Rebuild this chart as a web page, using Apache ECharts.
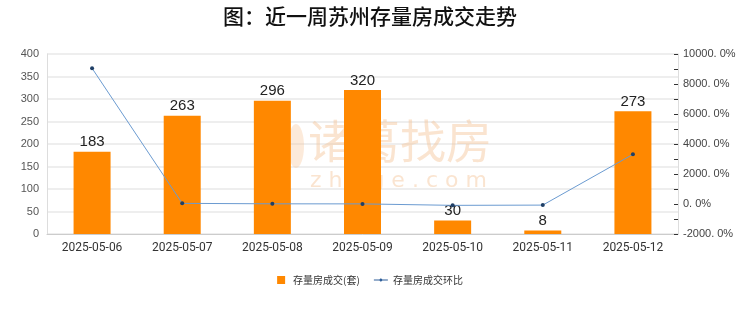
<!DOCTYPE html>
<html><head><meta charset="utf-8">
<script src="https://cdn.jsdelivr.net/npm/echarts@6/dist/echarts.min.js"></script>
<style>html,body{margin:0;padding:0;background:#fff}#c{width:740px;height:312px}</style>
</head><body><div id="c"></div>
<script>
const categories = ['2025-05-06','2025-05-07','2025-05-08','2025-05-09','2025-05-10','2025-05-11','2025-05-12'];
const volume = [183, 263, 296, 320, 30, 8, 273];
const ratio = [9050, 43.7, 12.5, 8.1, -90.6, -73.3, 3312.5];
const titleText = '图：近一周苏州存量房成交走势';
const seriesNames = ['存量房成交(套)', '存量房成交环比'];

const chart = echarts.init(document.getElementById('c'));
chart.setOption({
  animation: false,
  backgroundColor: '#fff',
  title: {
    text: titleText, left: 'center', top: 1,
    textStyle: {fontSize: 21, fontWeight: 500, color: '#111', fontFamily: 'Noto Sans CJK SC'}
  },
  graphic: [
    {type: 'text', left: 308, top: 118, z: 1, silent: true,
     style: {text: '诸葛找房', fontSize: 46, fontFamily: 'Noto Sans CJK SC', fill: 'rgba(245,195,150,0.45)'}},
    {type: 'text', left: 310, top: 170, z: 1, silent: true,
     style: {text: 'z h u g e . c o m', fontSize: 22, fontFamily: 'DejaVu Sans', fill: 'rgba(245,195,150,0.45)'}},
    {type: 'ellipse', shape: {cx: 296, cy: 146, rx: 8, ry: 22}, z: 1, silent: true,
     style: {fill: 'rgba(245,195,150,0.35)'}}
  ],
  legend: {
    bottom: 22, left: 'center', itemGap: 14, itemWidth: 14, itemHeight: 8,
    textStyle: {fontSize: 10, color: '#333', fontFamily: 'Noto Sans CJK SC'},
    data: [
      {name: seriesNames[0], icon: 'path://M3,0 L11,0 L11,8 L3,8 Z'},
      {name: seriesNames[1], icon: 'path://M0,3.6 L5.5,3.6 L7,2.3 L8.5,3.6 L14,3.6 L14,4.4 L8.5,4.4 L7,5.7 L5.5,4.4 L0,4.4 Z',
       itemStyle: {color: '#2f5f9a'}}
    ]
  },
  grid: {left: 47, right: 62, top: 54, bottom: 78},
  xAxis: {
    type: 'category', data: categories,
    axisLine: {lineStyle: {color: '#ccc'}},
    axisTick: {show: false},
    axisLabel: {fontSize: 12, color: '#333', margin: 8, fontFamily: 'Roboto'}
  },
  yAxis: [
    {type: 'value', min: 0, max: 400, interval: 50,
     axisLine: {show: true, lineStyle: {color: '#ddd'}},
     axisTick: {show: false},
     axisLabel: {fontSize: 11, color: '#555', margin: 8},
     splitLine: {lineStyle: {color: '#e8e8e8', width: 1.5}}},
    {type: 'value', min: -2000, max: 10000, interval: 1000,
     axisLine: {show: true, lineStyle: {color: '#ddd'}},
     axisTick: {show: true, inside: true, length: 4, lineStyle: {color: '#333'}},
     axisLabel: {fontSize: 11, color: '#444', margin: 5,
       formatter: v => (Math.round(v) % 2000 === 0) ? (v.toFixed(1).replace('.', '. ') + '%') : ''},
     splitLine: {show: false}}
  ],
  series: [
    {name: seriesNames[0], type: 'bar', data: volume, barWidth: 37, z: 2,
     itemStyle: {color: '#ff8800'},
     label: {show: true, position: 'top', fontSize: 15, color: '#222', fontFamily: 'Liberation Sans', distance: 2}},
    {name: seriesNames[1], type: 'line', yAxisIndex: 1, data: ratio, z: 3,
     symbol: 'circle', symbolSize: 4,
     lineStyle: {color: '#6b9bd1', width: 1},
     itemStyle: {color: '#1f3f66'}}
  ]
});
</script></body></html>
